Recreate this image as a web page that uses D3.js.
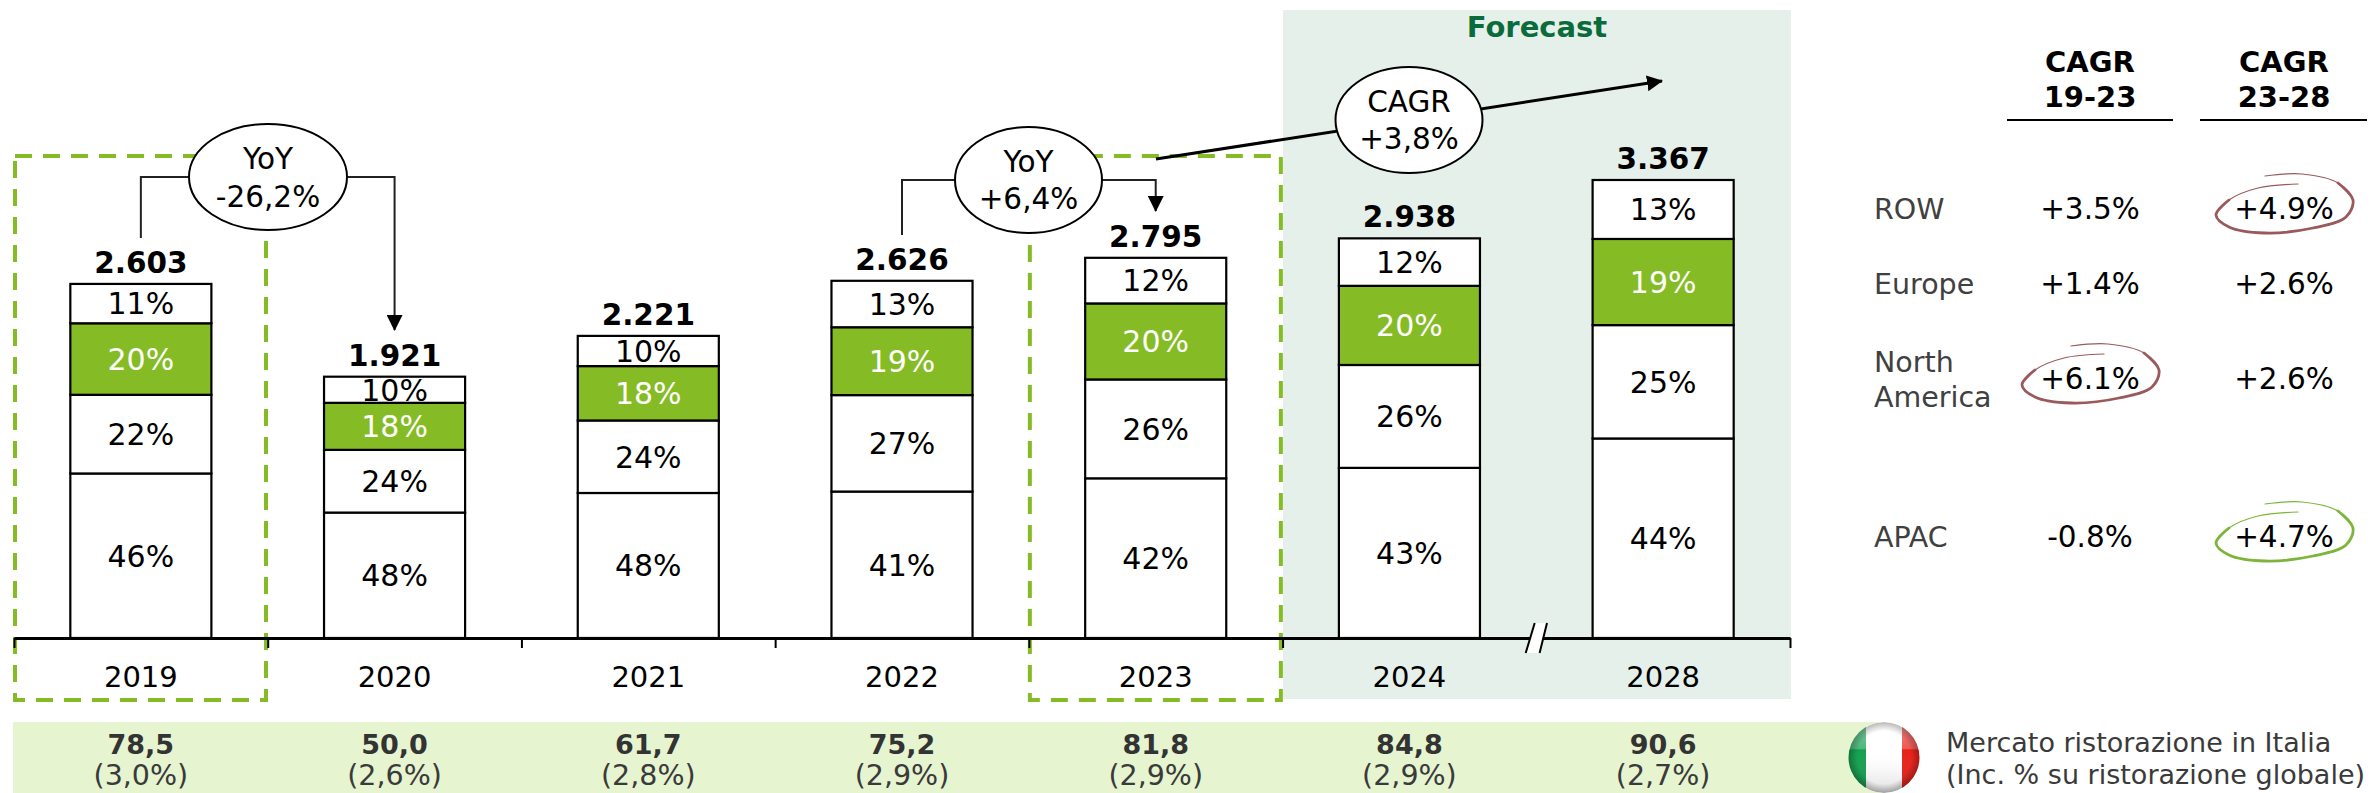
<!DOCTYPE html>
<html>
<head>
<meta charset="utf-8">
<script src="https://cdn.jsdelivr.net/npm/d3@7/dist/d3.min.js"></script>
<style>
  body { margin: 0; background: #fff; }
  svg { display: block; }
  text { font-family: "DejaVu Sans", sans-serif; }
</style>
</head>
<body>
<svg></svg>
<script>
var years = ["2019", "2020", "2021", "2022", "2023", "2024", "2028"];
var totals = [2603, 1921, 2221, 2626, 2795, 2938, 3367];

// shares, bottom to top of each bar
var apac = [46, 48, 48, 41, 42, 43, 44];
var northAmerica = [22, 24, 24, 27, 26, 26, 25];
var europe = [20, 18, 18, 19, 20, 20, 19];
var row = [11, 10, 10, 13, 12, 12, 13];

var italyMarket = [78.5, 50.0, 61.7, 75.2, 81.8, 84.8, 90.6];
var italyShare = [3.0, 2.6, 2.8, 2.9, 2.9, 2.9, 2.7];

var regions = ["ROW", "Europe", "North America", "APAC"];
var cagr1923 = ["+3.5%", "+1.4%", "+6.1%", "-0.8%"];
var cagr2328 = ["+4.9%", "+2.6%", "+2.6%", "+4.7%"];

var width = 2374, height = 793;
var baseY = 638;
var green = "#85bc25";

var svg = d3.select("svg").attr("width", width).attr("height", height);

var it = d3.formatLocale({ decimal: ",", thousands: ".", grouping: [3], currency: ["", "€"] });
var fmtTotal = it.format(",d"), fmtOne = it.format(".1f");

var x = d3.scaleBand().domain(years).range([14, 1790]).paddingInner(0.444).paddingOuter(0.222);
var y = d3.scaleLinear().domain([0, 3367]).range([baseY, 180]);
var ticksX = d3.scalePoint().domain(years.concat("end")).range([14, 1790]);

function center(year) { return x(year) + x.bandwidth() / 2; }

// forecast panel
svg.append("rect").attr("x", 1283).attr("y", 10).attr("width", 508).attr("height", 689).attr("fill", "#e5f0ea");
svg.append("text").attr("x", 1537).attr("y", 37).attr("text-anchor", "middle")
    .attr("font-size", 29).attr("font-weight", "bold").attr("fill", "#0b6b3a").text("Forecast");

// dashed boxes on 2019 and 2023
["2019", "2023"].forEach(function(yr) {
  svg.append("rect")
      .attr("x", ticksX(yr) + 1).attr("y", 156)
      .attr("width", 251).attr("height", 544)
      .attr("fill", "none").attr("stroke", green).attr("stroke-width", 4)
      .attr("stroke-dasharray", "17 11");
});

// stacked bars
var series = [
  { name: "APAC", values: apac, fill: "#fff", color: "#000" },
  { name: "North America", values: northAmerica, fill: "#fff", color: "#000" },
  { name: "Europe", values: europe, fill: green, color: "#fff" },
  { name: "ROW", values: row, fill: "#fff", color: "#000" }
];

var bars = svg.append("g").selectAll("g").data(years).enter().append("g");

bars.each(function(yr, i) {
  var sum = d3.sum(series, function(s) { return s.values[i]; });
  var acc = 0;
  var g = d3.select(this);
  series.forEach(function(s) {
    var v0 = totals[i] * acc / sum;
    acc += s.values[i];
    var v1 = totals[i] * acc / sum;
    g.append("rect")
        .attr("x", x(yr)).attr("y", y(v1))
        .attr("width", x.bandwidth()).attr("height", y(v0) - y(v1))
        .attr("fill", s.fill).attr("stroke", "#000").attr("stroke-width", 2.2);
    g.append("text")
        .attr("x", center(yr)).attr("y", (y(v0) + y(v1)) / 2).attr("dy", ".36em")
        .attr("text-anchor", "middle").attr("font-size", 30).attr("fill", s.color)
        .text(s.values[i] + "%");
  });
  g.append("text")
      .attr("x", center(yr)).attr("y", y(totals[i]) - 11)
      .attr("text-anchor", "middle").attr("font-size", 29.5).attr("font-weight", "bold")
      .text(fmtTotal(totals[i]));
});

// axis: ticks on the band edges, year labels in the middle
var edgeAxis = svg.append("g").attr("transform", "translate(0," + baseY + ")")
    .call(d3.axisBottom(ticksX).tickSize(10).tickSizeOuter(0).tickFormat(""));
edgeAxis.select(".domain").attr("stroke", "#000").attr("stroke-width", 3);
edgeAxis.selectAll(".tick line").attr("stroke", "#000").attr("stroke-width", 2);

var yearAxis = svg.append("g").attr("transform", "translate(0,666)")
    .call(d3.axisBottom(x).tickSize(0).tickPadding(0));
yearAxis.select(".domain").remove();
yearAxis.selectAll("text").attr("font-size", 29).attr("font-family", "DejaVu Sans").attr("fill", "#000");

// axis break
svg.append("path").attr("d", "M1534.7,623L1547,623L1539.6,653L1525.7,653Z").attr("fill", "#fff");
svg.append("path").attr("d", "M1534.7,623L1525.7,653M1547,623L1539.6,653")
    .attr("fill", "none").attr("stroke", "#000").attr("stroke-width", 2);

// arrow heads
var defs = svg.append("defs");
defs.append("marker").attr("id", "arrow").attr("markerUnits", "userSpaceOnUse")
    .attr("viewBox", "0 0 16 16").attr("refX", 15).attr("refY", 8)
    .attr("markerWidth", 16).attr("markerHeight", 16).attr("orient", "auto")
  .append("path").attr("d", "M0,0L16,8L0,16Z").attr("fill", "#000");

// YoY and CAGR callouts
function connector(from, to, midY, endY, tipY) {
  svg.append("path")
      .attr("d", "M" + center(from) + "," + endY + "V" + midY + "H" + center(to) + "V" + tipY)
      .attr("fill", "none").attr("stroke", "#222").attr("stroke-width", 2)
      .attr("marker-end", "url(#arrow)");
}
connector("2019", "2020", 177, 238, 330);
connector("2022", "2023", 180, 235, 211);

svg.append("path").attr("d", "M1156,159L1662,81")
    .attr("fill", "none").attr("stroke", "#000").attr("stroke-width", 3)
    .attr("marker-end", "url(#arrow)");

function bubble(cx, cy, rx, line1, line2, y1, y2) {
  svg.append("ellipse").attr("cx", cx).attr("cy", cy).attr("rx", rx).attr("ry", 53)
      .attr("fill", "#fff").attr("stroke", "#000").attr("stroke-width", 2);
  svg.append("text").attr("x", cx).attr("y", y1).attr("text-anchor", "middle").attr("font-size", 29.5).text(line1);
  svg.append("text").attr("x", cx).attr("y", y2).attr("text-anchor", "middle").attr("font-size", 29.5).text(line2);
}
bubble(268, 177, 79, "YoY", "-26,2%", 169, 207);
bubble(1028.5, 180, 73.5, "YoY", "+6,4%", 172, 209);
bubble(1409, 120, 73.5, "CAGR", "+3,8%", 112, 149);

// right hand table
var colA = 2090, colB = 2284;
[[colA, 2007, 2173, "19-23"], [colB, 2200, 2367, "23-28"]].forEach(function(c) {
  svg.append("text").attr("x", c[0]).attr("y", 72).attr("text-anchor", "middle")
      .attr("font-size", 29).attr("font-weight", "bold").text("CAGR");
  svg.append("text").attr("x", c[0]).attr("y", 107).attr("text-anchor", "middle")
      .attr("font-size", 29).attr("font-weight", "bold").text(c[3]);
  svg.append("line").attr("x1", c[1]).attr("x2", c[2]).attr("y1", 120).attr("y2", 120)
      .attr("stroke", "#000").attr("stroke-width", 2);
});

var rowBase = [219, 294, 389, 547];
regions.forEach(function(r, i) {
  var lines = r == "North America" ? ["North", "America"] : [r];
  var ys = r == "North America" ? [372, 407] : [rowBase[i]];
  lines.forEach(function(l, j) {
    svg.append("text").attr("x", 1874).attr("y", ys[j]).attr("font-size", 28.5).attr("fill", "#404040").text(l);
  });
  svg.append("text").attr("x", colA).attr("y", rowBase[i]).attr("text-anchor", "middle").attr("font-size", 29.5).text(cagr1923[i]);
  svg.append("text").attr("x", colB).attr("y", rowBase[i]).attr("text-anchor", "middle").attr("font-size", 29.5).text(cagr2328[i]);
});

// hand drawn rings round the highlighted rates, thin at both ends
var ring = d3.line().curve(d3.curveCatmullRom.alpha(0.5));
var ringPts = [[-19,-43],[18,-45],[54,-36],[69,-19],[62,-2],[29,9],[-19,14],[-55,8],[-68,-4],[-55,-19],[-26,-31],[14,-35]];
[[colB, 219, "#9a5a5c"], [colA, 389, "#9a5a5c"], [colB, 547, "#7db53a"]].forEach(function(r) {
  var g = svg.append("g").attr("transform", "translate(" + r[0] + "," + r[1] + ")")
      .attr("fill", "none").attr("stroke", r[2]).attr("stroke-linecap", "round");
  g.append("path").attr("d", ring(ringPts)).attr("stroke-width", 1.2);
  g.append("path").attr("d", ring(ringPts.slice(2, 10))).attr("stroke-width", 2.8);
});

// bottom strip
svg.append("rect").attr("x", 13).attr("y", 722).attr("width", 1871).attr("height", 71).attr("fill", "#e6f4d0");
years.forEach(function(yr, i) {
  svg.append("text").attr("x", center(yr)).attr("y", 754).attr("text-anchor", "middle")
      .attr("font-size", 27).attr("font-weight", "bold").attr("fill", "#333").text(fmtOne(italyMarket[i]));
  svg.append("text").attr("x", center(yr)).attr("y", 785).attr("text-anchor", "middle")
      .attr("font-size", 28.5).attr("fill", "#3a3a3a").text("(" + fmtOne(italyShare[i]) + "%)");
});

// flag
var gloss = defs.append("linearGradient").attr("id", "gloss").attr("x1", 0).attr("x2", 0).attr("y1", 0).attr("y2", 1);
gloss.append("stop").attr("offset", 0).attr("stop-color", "#fff").attr("stop-opacity", 0.5);
gloss.append("stop").attr("offset", 0.38).attr("stop-color", "#fff").attr("stop-opacity", 0.25);
gloss.append("stop").attr("offset", 0.4).attr("stop-color", "#fff").attr("stop-opacity", 0);
gloss.append("stop").attr("offset", 1).attr("stop-color", "#000").attr("stop-opacity", 0.15);
var rim = defs.append("radialGradient").attr("id", "rim");
rim.append("stop").attr("offset", 0.75).attr("stop-color", "#000").attr("stop-opacity", 0);
rim.append("stop").attr("offset", 1).attr("stop-color", "#000").attr("stop-opacity", 0.28);
defs.append("clipPath").attr("id", "flagClip").append("circle").attr("cx", 1884).attr("cy", 757.5).attr("r", 35.5);
var flag = svg.append("g").attr("clip-path", "url(#flagClip)");
flag.append("rect").attr("x", 1847).attr("y", 720).attr("width", 19).attr("height", 75).attr("fill", "#14a050");
flag.append("rect").attr("x", 1866).attr("y", 720).attr("width", 36).attr("height", 75).attr("fill", "#fff");
flag.append("rect").attr("x", 1902).attr("y", 720).attr("width", 20).attr("height", 75).attr("fill", "#e8201a");
flag.append("rect").attr("x", 1847).attr("y", 720).attr("width", 75).attr("height", 75).attr("fill", "url(#gloss)");
flag.append("circle").attr("cx", 1884).attr("cy", 757.5).attr("r", 35.5).attr("fill", "url(#rim)");

svg.append("text").attr("x", 1946).attr("y", 752).attr("font-size", 27).attr("fill", "#3a3a3a").text("Mercato ristorazione in Italia");
svg.append("text").attr("x", 1946).attr("y", 784).attr("font-size", 27).attr("fill", "#3a3a3a").text("(Inc. % su ristorazione globale)");
</script>
</body>
</html>
